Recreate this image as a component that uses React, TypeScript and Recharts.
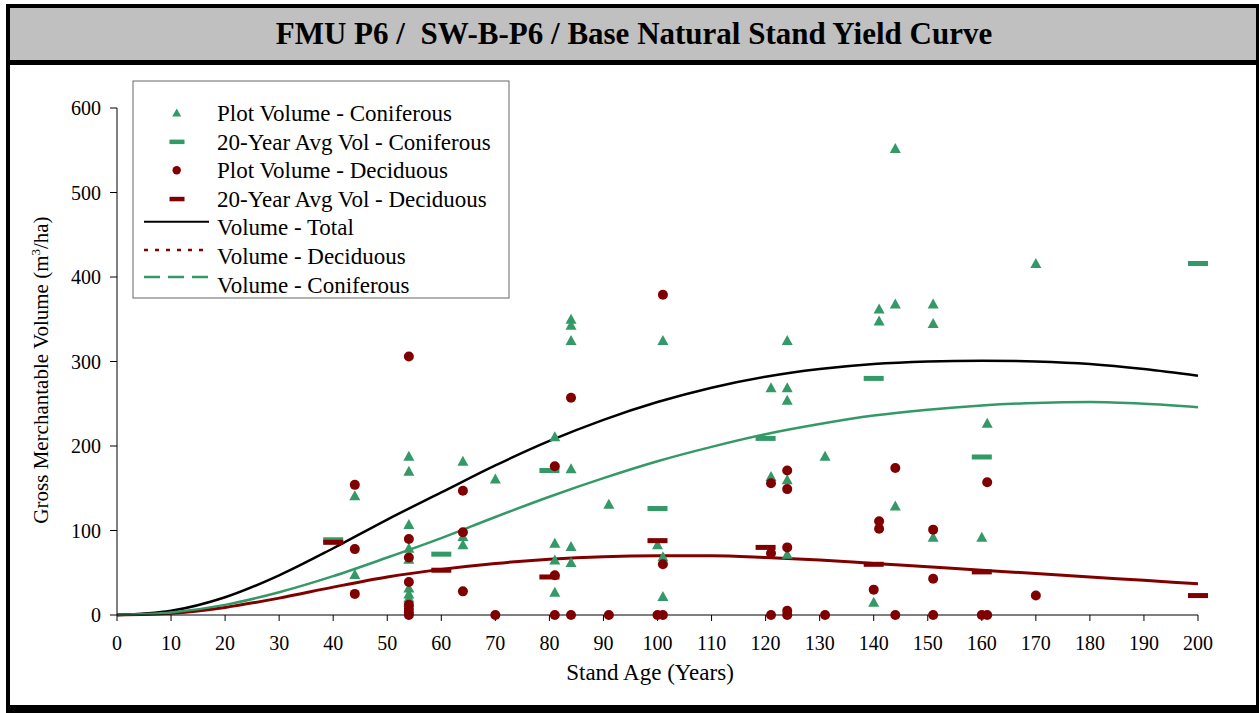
import React from "react";
import { ComposedChart, Line, Scatter, XAxis, YAxis } from "recharts";

const W = 1259;
const H = 713;
const GREEN = "#339966";
const RED = "#800000";
const SERIF = "'Liberation Serif', 'DejaVu Serif', 'Times New Roman', serif";

const ageTicks = [0, 10, 20, 30, 40, 50, 60, 70, 80, 90, 100, 110, 120, 130, 140, 150, 160, 170, 180, 190, 200];
const volTicks = [0, 100, 200, 300, 400, 500, 600];

// yield curves, read every 10 years
const curveAges = [0, 10, 20, 30, 40, 50, 60, 70, 80, 90, 100, 110, 120, 130, 140, 150, 160, 170, 180, 190, 200];
const totalCurve = [0, 5, 21, 47, 79, 113, 145, 177, 206, 231, 252, 269, 282, 291, 297, 300, 301, 300, 297, 291, 283];
const decidCurve = [0, 2, 9, 20, 33, 45, 54, 61, 66, 69, 70, 70, 68, 65, 61, 57, 53, 49, 45, 41, 37];
const conifCurve = [0, 3, 12, 27, 46, 68, 91, 116, 140, 162, 182, 199, 214, 226, 236, 243, 248, 251, 252, 250, 246];

// plot volumes [age, volume]
const conifPlots: [number, number][] = [
  [44, 141], [44, 48],
  [54, 188], [54, 170], [54, 107], [54, 79], [54, 66], [54, 32], [54, 25], [54, 20], [54, 15],
  [64, 182], [64, 93], [64, 83],
  [70, 161],
  [81, 211], [81, 85], [81, 65], [81, 27],
  [84, 350], [84, 343], [84, 325], [84, 173], [84, 81], [84, 62],
  [91, 131],
  [100, 83],
  [101, 325], [101, 69], [101, 22],
  [121, 269], [121, 164],
  [124, 325], [124, 269], [124, 254], [124, 160], [124, 72],
  [131, 188],
  [140, 15],
  [141, 362], [141, 348],
  [144, 552], [144, 368], [144, 129],
  [151, 368], [151, 345], [151, 92],
  [160, 92],
  [161, 227],
  [170, 416],
];

const decidPlots: [number, number][] = [
  [44, 154], [44, 78], [44, 25],
  [54, 306], [54, 90], [54, 68], [54, 39], [54, 12], [54, 7], [54, 3], [54, 0],
  [64, 147], [64, 98], [64, 28],
  [70, 0],
  [81, 176], [81, 47], [81, 0],
  [84, 257], [84, 0],
  [91, 0],
  [100, 0], [101, 379], [101, 60], [101, 0],
  [121, 156], [121, 73], [121, 0],
  [124, 171], [124, 149], [124, 80], [124, 5], [124, 0],
  [131, 0],
  [140, 30],
  [141, 111], [141, 102],
  [144, 174], [144, 0],
  [151, 101], [151, 43], [151, 0],
  [160, 0], [161, 157], [161, 0],
  [170, 23],
];

// 20-year averages
const conifAvg: [number, number][] = [[40, 89], [60, 72], [80, 171], [100, 126], [120, 209], [140, 280], [160, 187], [200, 416]];
const decidAvg: [number, number][] = [[40, 86], [60, 53], [80, 45], [100, 88], [120, 80], [140, 60], [160, 51], [200, 23]];

const legendLabels = [
  "Plot Volume - Coniferous",
  "20-Year Avg Vol - Coniferous",
  "Plot Volume - Deciduous",
  "20-Year Avg Vol - Deciduous",
  "Volume - Total",
  "Volume - Deciduous",
  "Volume - Coniferous",
];

const toRows = (pts: [number, number][]) => pts.map(([age, v]) => ({ age, v }));
const curveRows = (vals: number[]) => curveAges.map((age, i) => ({ age, v: vals[i] }));

const triangle = (p: any) => (
  <polygon points={`${p.cx},${p.cy - 5.5} ${p.cx + 5.5},${p.cy + 4.5} ${p.cx - 5.5},${p.cy + 4.5}`} fill={GREEN} />
);
const dot = (p: any) => <circle cx={p.cx} cy={p.cy} r={5} fill={RED} />;
const dash = (color: string) => (p: any) => <rect x={p.cx - 10} y={p.cy - 2.5} width={20} height={5} fill={color} />;

const tickStyle = { fill: "#000", fontSize: 20, style: { fontFamily: SERIF } };

function LegendBox() {
  const rowY = (i: number) => 113 + i * 28.6;
  return (
    <g>
      <rect x={133} y={81} width={376} height={217} fill="#fff" stroke="#666" strokeWidth={1} />
      <polygon points={`176.7,108.5 181.2,116.5 172.2,116.5`} fill={GREEN} />
      <rect x={169.5} y={rowY(1) - 2} width={15} height={4.5} fill={GREEN} />
      <circle cx={176.7} cy={rowY(2)} r={4.2} fill={RED} />
      <rect x={169.5} y={rowY(3) - 2} width={15} height={4.5} fill={RED} />
      <line x1={144} x2={209} y1={221.7} y2={221.7} stroke="#000" strokeWidth={2} />
      <line x1={144} x2={209} y1={250} y2={250} stroke={RED} strokeWidth={2.5} strokeDasharray="4 7" />
      <line x1={144} x2={209} y1={277} y2={277} stroke={GREEN} strokeWidth={2.5} strokeDasharray="16 8" />
      {legendLabels.map((t, i) => (
        <text key={t} x={217} y={rowY(i) + 8} fontSize={23} style={{ fontFamily: SERIF }} fill="#000">
          {t}
        </text>
      ))}
    </g>
  );
}

export default function App() {
  return (
    <div style={{ position: "absolute", left: 0, top: 0, width: W, height: H, background: "#fff", fontFamily: SERIF }}>
      <div style={{ position: "absolute", left: 0, top: 0 }}>
        <ComposedChart width={W} height={H} margin={{ top: 108, right: 61, bottom: 58, left: 57 }} style={{ fontFamily: SERIF }}>
          <XAxis
            type="number"
            dataKey="age"
            domain={[0, 200]}
            ticks={ageTicks}
            interval={0}
            height={40}
            tickSize={6}
            tickMargin={15}
            tick={tickStyle}
            stroke="#000"
          />
          <YAxis
            type="number"
            dataKey="v"
            domain={[0, 600]}
            ticks={volTicks}
            interval={0}
            width={60}
            tickSize={7}
            tickMargin={9}
            tick={tickStyle}
            stroke="#000"
          />
          <Line data={curveRows(totalCurve)} dataKey="v" type="monotone" stroke="#000" strokeWidth={2.5} dot={false} activeDot={false} isAnimationActive={false} />
          <Line data={curveRows(decidCurve)} dataKey="v" type="monotone" stroke={RED} strokeWidth={3} dot={false} activeDot={false} isAnimationActive={false} />
          <Line data={curveRows(conifCurve)} dataKey="v" type="monotone" stroke={GREEN} strokeWidth={2.5} dot={false} activeDot={false} isAnimationActive={false} />
          <Scatter data={toRows(conifPlots)} dataKey="v" shape={triangle} isAnimationActive={false} />
          <Scatter data={toRows(conifAvg)} dataKey="v" shape={dash(GREEN)} isAnimationActive={false} />
          <Scatter data={toRows(decidPlots)} dataKey="v" shape={dot} isAnimationActive={false} />
          <Scatter data={toRows(decidAvg)} dataKey="v" shape={dash(RED)} isAnimationActive={false} />
        </ComposedChart>
      </div>
      <svg width={W} height={H} style={{ position: "absolute", left: 0, top: 0, pointerEvents: "none", fontFamily: SERIF }}>
        <rect x={10} y={8} width={1246} height={52} fill="#c0c0c0" />
        <rect x={6} y={4} width={4} height={709} fill="#000" />
        <rect x={6} y={4} width={1253} height={4} fill="#000" />
        <rect x={1256} y={4} width={3} height={709} fill="#000" />
        <rect x={6} y={705} width={1253} height={8} fill="#000" />
        <rect x={6} y={60} width={1253} height={5} fill="#000" />
        <text x={634} y={44} textAnchor="middle" fontSize={31} fontWeight="bold" fill="#000" style={{ whiteSpace: "pre", fontFamily: SERIF }}>
          {"FMU P6 /  SW-B-P6 / Base Natural Stand Yield Curve"}
        </text>
        <text x={650} y={680} textAnchor="middle" fontSize={23} fill="#000" style={{ fontFamily: SERIF }}>
          Stand Age (Years)
        </text>
        <text transform="translate(48 370) rotate(-90)" textAnchor="middle" fontSize={21} fill="#000" style={{ fontFamily: SERIF }}>
          Gross Merchantable Volume (m
          <tspan fontSize={13} dy={-8}>3</tspan>
          <tspan dy={8}>/ha)</tspan>
        </text>
        <LegendBox />
      </svg>
    </div>
  );
}
